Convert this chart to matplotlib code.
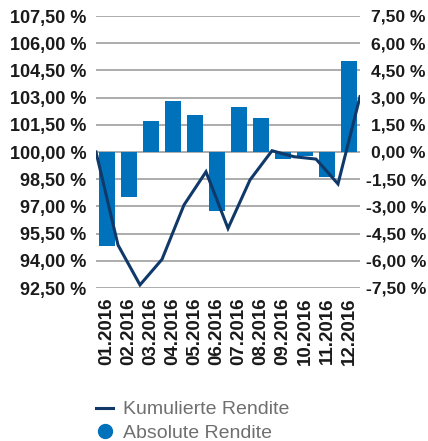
import numpy as np
import matplotlib
matplotlib.use('agg')
import matplotlib.pyplot as plt
from matplotlib.lines import Line2D

plt.rcParams['font.family'] = ['Liberation Sans', 'DejaVu Sans']

months = ['01.2016', '02.2016', '03.2016', '04.2016', '05.2016', '06.2016',
          '07.2016', '08.2016', '09.2016', '10.2016', '11.2016', '12.2016']
# Absolute Rendite je Monat (rechte Achse, %)
absolut = [-5.17, -2.46, 1.71, 2.81, 2.04, -3.25, 2.48, 1.87, -0.39, -0.20, -1.36, 5.02]
# Kumulierte Rendite (linke Achse, %), Startwert plus Monatsenden
kumuliert = [100.0, 94.87, 92.67, 94.08, 97.08, 98.91, 95.79, 98.46, 100.07, 99.74, 99.61, 98.24, 103.05]

left_ticks = [92.5, 94.0, 95.5, 97.0, 98.5, 100.0, 101.5, 103.0, 104.5, 106.0, 107.5]
right_ticks = [-7.5, -6.0, -4.5, -3.0, -1.5, 0.0, 1.5, 3.0, 4.5, 6.0, 7.5]

bar_col = '#0071bb'
line_col = '#10396a'
grid_col = '#a6a6a6'

def fmt(v):
    return ('%.2f %%' % v).replace('.', ',')

fig = plt.figure(figsize=(4.28, 4.41), dpi=100)
ax = fig.add_axes([96/428, 1-288/441, (360-96)/428, (288-16)/441])
ax2 = ax.twinx()

x = np.arange(len(months))
ax2.bar(x, absolut, width=0.77, color=bar_col, zorder=2)
ax.plot(np.arange(len(kumuliert)) - 0.5, kumuliert, color=line_col, lw=2.2,
        solid_joinstyle='miter', zorder=3)

ax.set_xlim(-0.5, 11.5)
ax.set_ylim(92.5, 107.5)
ax2.set_ylim(-7.5, 7.5)
ax.set_yticks(left_ticks)
ax.set_yticklabels([fmt(v) for v in left_ticks])
ax2.set_yticks(right_ticks)
ax2.set_yticklabels([fmt(v) for v in right_ticks])
for lab in ax2.get_yticklabels():
    lab.set_horizontalalignment('right')

ax.set_xticks(x)
ax.set_xticklabels(months, rotation=90)

for a in (ax, ax2):
    for s in a.spines.values():
        s.set_visible(False)
ax.tick_params(axis='y', length=0, pad=7, labelsize=13)
ax.tick_params(axis='x', length=0, pad=7, labelsize=13.5)
ax2.tick_params(axis='y', length=0, pad=47.5, labelsize=12.6)
for lab in ax.get_yticklabels() + ax2.get_yticklabels() + ax.get_xticklabels():
    lab.set_fontweight('bold')
    lab.set_color('#1a1a1a')

ax.set_zorder(ax2.get_zorder() + 1)
ax.patch.set_visible(False)
ax2.grid(axis='y', color=grid_col, lw=1.3, zorder=0)
ax2.set_axisbelow(True)

handles = [Line2D([], [], color=line_col, lw=2.2),
           Line2D([], [], color=bar_col, marker='o', ls='none', markersize=10)]
leg = fig.legend(handles, ['Kumulierte Rendite', 'Absolute Rendite'],
                 loc='upper left', bbox_to_anchor=(88/428, 1-393/441),
                 frameon=False, fontsize=14, handlelength=0.9, handletextpad=0.5,
                 labelspacing=0.3, borderaxespad=0)
for t in leg.get_texts():
    t.set_color('#6f6f6f')

fig.savefig('out.png', dpi=100)
